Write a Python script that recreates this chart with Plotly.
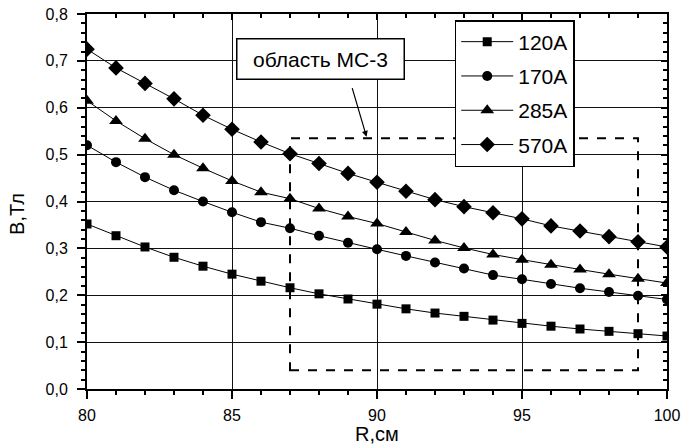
import plotly.graph_objects as go

R = list(range(80, 101))
B_120 = [0.352, 0.327, 0.303, 0.281, 0.262, 0.245, 0.230, 0.216, 0.203, 0.192, 0.181,
         0.171, 0.162, 0.155, 0.147, 0.140, 0.134, 0.128, 0.123, 0.118, 0.113]
B_170 = [0.520, 0.484, 0.452, 0.424, 0.400, 0.377, 0.356, 0.343, 0.327, 0.312, 0.298,
         0.284, 0.270, 0.257, 0.243, 0.234, 0.224, 0.215, 0.207, 0.199, 0.191]
B_285 = [0.615, 0.572, 0.534, 0.500, 0.471, 0.444, 0.420, 0.406, 0.385, 0.368, 0.353,
         0.335, 0.317, 0.301, 0.287, 0.276, 0.265, 0.255, 0.245, 0.235, 0.226]
B_570 = [0.725, 0.685, 0.652, 0.619, 0.584, 0.554, 0.527, 0.502, 0.481, 0.460, 0.441,
         0.422, 0.404, 0.389, 0.376, 0.363, 0.348, 0.337, 0.325, 0.314, 0.303]

SERIES = [("120A", B_120, "square", 9),
          ("170A", B_170, "circle", 10),
          ("285A", B_285, "triangle-up", 12),
          ("570A", B_570, "diamond", 12)]

X_TITLE = "R,см"
Y_TITLE = "B,Тл"

REGION_R = [87, 99]
REGION_B = [0.04, 0.535]
REGION_LABEL = "область МС-3"
LABEL_POS = (88.05, 0.704)
ARROW_TAIL = (89.13, 0.645)
ARROW_HEAD = (89.64, 0.538)

FONT = "Liberation Sans, Arial, sans-serif"

fig = go.Figure()
for i, (name, vals, sym, sz) in enumerate(SERIES):
    fig.add_trace(go.Scatter(
        x=R, y=vals, name=name, mode="lines+markers",
        line=dict(color="black", width=1),
        marker=dict(symbol=sym, size=sz, color="black"),
        legendgroup=f"g{i}"))

# empty trace to activate the mirrored (top/right) axes
fig.add_trace(go.Scatter(x=[], y=[], xaxis="x2", yaxis="y2", showlegend=False))

fig.add_shape(type="rect", xref="x", yref="y",
              x0=REGION_R[0], x1=REGION_R[1], y0=REGION_B[0], y1=REGION_B[1],
              line=dict(color="black", width=2, dash="dash"), layer="between")

fig.add_annotation(x=LABEL_POS[0], y=LABEL_POS[1], xref="x", yref="y",
                   text=REGION_LABEL, showarrow=False,
                   font=dict(family=FONT, size=21, color="black"),
                   bgcolor="white", bordercolor="black", borderwidth=1.5,
                   borderpad=8, width=150)
fig.add_annotation(x=ARROW_HEAD[0], y=ARROW_HEAD[1], xref="x", yref="y",
                   ax=ARROW_TAIL[0], ay=ARROW_TAIL[1], axref="x", ayref="y",
                   text="", showarrow=True, arrowhead=2, arrowsize=1,
                   arrowwidth=1.2, arrowcolor="black", standoff=0)

# axis titles
fig.add_annotation(x=0.5, y=0, xref="paper", yref="paper", yshift=-45,
                   xanchor="center", yanchor="middle", showarrow=False,
                   text=X_TITLE, font=dict(family=FONT, size=20, color="black"))
fig.add_annotation(x=0, y=0.467, xref="paper", yref="paper", xshift=-70,
                   xanchor="center", yanchor="middle", showarrow=False, textangle=-90,
                   text=Y_TITLE, font=dict(family=FONT, size=20, color="black"))

axis_common = dict(showline=True, linecolor="black", linewidth=2,
                   tickcolor="black", tickwidth=1.5, zeroline=False,
                   automargin=False)

fig.update_layout(
    width=683, height=445,
    margin=dict(l=87, r=16, t=14, b=56, autoexpand=False),
    paper_bgcolor="white", plot_bgcolor="white",
    separators=", ",
    font=dict(family=FONT, color="black"),
    showlegend=True,
    legend=dict(x=0.634, y=0.984, xanchor="left", yanchor="top",
                bgcolor="white", bordercolor="black", borderwidth=1.5,
                font=dict(family=FONT, size=21, color="black"),
                tracegroupgap=4, traceorder="grouped", itemwidth=52),
    xaxis=dict(range=[80, 100], dtick=5, tick0=80, ticks="outside", ticklen=8,
               minor=dict(dtick=1, ticks="outside", ticklen=4, tickcolor="black", showgrid=False),
               showgrid=True, gridcolor="#111", gridwidth=1,
               tickfont=dict(size=16), ticklabelstandoff=3,
               **axis_common),
    yaxis=dict(range=[0, 0.8], dtick=0.1, tick0=0, tickformat=".1f",
               ticks="outside", ticklen=8,
               minor=dict(dtick=0.02, ticks="outside", ticklen=4, tickcolor="black", showgrid=False),
               showgrid=True, gridcolor="#111", gridwidth=1,
               tickfont=dict(size=16), ticklabelstandoff=6,
               **axis_common),
    xaxis2=dict(overlaying="x", side="top", anchor="y", range=[80, 100], dtick=5,
                ticks="inside", ticklen=6, showticklabels=False, showgrid=False,
                minor=dict(dtick=1, ticks="inside", ticklen=4, tickcolor="black"),
                **axis_common),
    yaxis2=dict(overlaying="y", side="right", anchor="x", range=[0, 0.8], dtick=0.1,
                ticks="inside", ticklen=6, showticklabels=False, showgrid=False,
                minor=dict(dtick=0.02, ticks="inside", ticklen=4, tickcolor="black"),
                **axis_common),
)

fig.write_html("out.html")
